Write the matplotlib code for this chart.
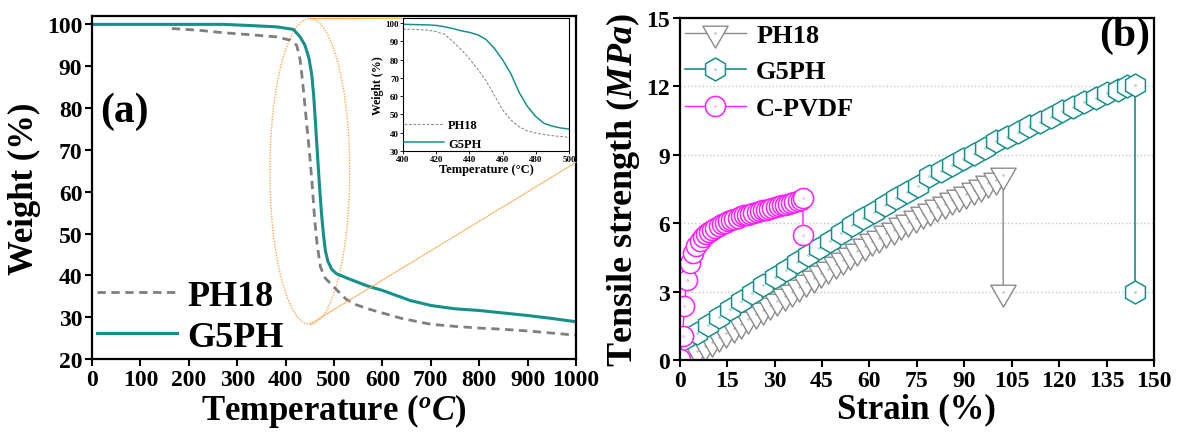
import matplotlib
matplotlib.use('Agg')
import matplotlib.pyplot as plt
from matplotlib.patches import Ellipse, ConnectionPatch
from matplotlib.path import Path

plt.rcParams['font.family'] = ['Liberation Serif', 'DejaVu Serif']
plt.rcParams['font.weight'] = 'bold'
plt.rcParams['axes.labelweight'] = 'bold'
plt.rcParams['mathtext.fontset'] = 'custom'
plt.rcParams['mathtext.rm'] = 'Liberation Serif:bold'
plt.rcParams['mathtext.it'] = 'Liberation Serif:italic:bold'
plt.rcParams['mathtext.bf'] = 'Liberation Serif:bold'

# ---------------- data: panel (a) TGA ----------------
T_PH18 = [165, 220, 271, 330, 382, 410, 423, 430, 435, 440, 445, 450, 455, 460, 465,
          472, 482, 495, 510, 525, 545, 570, 600, 640, 700, 750, 800, 850, 900, 950, 1000]
W_PH18 = [99.0, 98.6, 98.0, 97.5, 97.0, 96.2, 95.0, 91.5, 86.5, 80.5, 74.5, 68.5, 61.5, 53.5, 47.5,
          42.0, 39.3, 37.8, 36.0, 34.3, 33.0, 32.0, 31.0, 29.7, 28.3, 27.8, 27.4, 27.1, 26.7, 26.2, 25.7]

T_G5PH = [0, 100, 200, 271, 330, 382, 416, 430, 440, 448, 454, 458, 462, 466, 470, 474, 478,
          482, 487, 495, 505, 530, 568, 600, 657, 700, 750, 800, 850, 900, 950, 1000]
W_G5PH = [100.0, 100.0, 100.0, 100.0, 99.7, 99.4, 98.8, 97.0, 95.0, 92.0, 88.0, 83.0, 76.0, 68.5,
          61.5, 55.0, 50.0, 46.0, 43.5, 41.5, 40.4, 39.2, 37.5, 36.4, 34.0, 32.8, 32.0, 31.6, 31.0,
          30.4, 29.7, 28.9]

# inset (400-500 C)
T_inset = [400, 405, 410, 415, 420, 425, 430, 435, 440, 445, 450, 455, 460, 465, 470, 475, 480,
           485, 490, 495, 500]
W_PH18_inset = [96.7, 96.6, 96.4, 96.1, 95.3, 93.8, 90.0, 85.5, 80.5, 74.8, 68.5, 60.5, 52.5,
                47.0, 43.2, 41.0, 39.8, 39.0, 38.4, 37.9, 37.5]
W_G5PH_inset = [99.3, 99.2, 99.1, 99.0, 98.7, 98.0, 97.0, 95.8, 94.9, 93.6, 91.0, 86.2, 79.9,
                72.2, 62.0, 54.3, 48.8, 45.1, 43.6, 42.6, 42.0]

# ---------------- data: panel (b) tensile ----------------
strain_PH18 = [3.3, 5.6, 7.9, 10.2, 12.5, 14.8, 17.1, 19.4, 21.7, 24.0, 26.3, 28.6, 30.9, 33.2,
               35.5, 37.8, 40.1, 42.4, 44.7, 47.0, 49.3, 51.6, 53.9, 56.2, 58.5, 60.8, 63.1, 65.4,
               67.7, 70.0, 72.3, 74.6, 76.9, 79.2, 81.5, 83.8, 86.1, 88.4, 90.7, 93.0, 95.3, 97.6,
               99.9, 102.3, 102.3]
stress_PH18 = [0.2, 0.4, 0.6, 0.8, 1.0, 1.2, 1.4, 1.6, 1.8, 2.0, 2.2, 2.4, 2.6, 2.8,
               3.0, 3.2, 3.4, 3.6, 3.8, 4.0, 4.2, 4.4, 4.6, 4.8, 5.0, 5.2, 5.35, 5.55,
               5.7, 5.9, 6.05, 6.25, 6.4, 6.55, 6.7, 6.85, 7.0, 7.15, 7.3, 7.45, 7.6, 7.75,
               7.9, 8.1, 3.0]

strain_G5PH = [1.5, 5.6, 9.0, 12.5, 16.0, 19.5, 23.0, 26.5, 30.0, 33.5, 37.0, 40.5, 44.0, 47.5,
               51.0, 54.5, 58.0, 61.5, 65.0, 68.5, 72.0, 75.5, 79.0, 82.5, 86.0, 89.5, 93.0,
               96.5, 100.0, 103.5, 107.0, 110.5, 114.0, 117.5, 121.0, 124.5, 128.0, 131.5,
               135.0, 138.5, 141.5, 144.0, 144.0]
stress_G5PH = [0.9, 1.2, 1.55, 1.9, 2.25, 2.6, 2.95, 3.3, 3.65, 3.95, 4.3, 4.6, 4.9, 5.2,
               5.55, 5.9, 6.25, 6.5, 6.8, 7.1, 7.35, 7.65, 8.05, 8.3, 8.55, 8.8, 9.05,
               9.3, 9.6, 9.8, 10.0, 10.25, 10.45, 10.65, 10.9, 11.1, 11.3, 11.5,
               11.7, 11.85, 12.0, 12.05, 3.0]

strain_CPVDF = [0.0, 0.9, 1.5, 2.2, 3.2, 4.3, 5.3, 6.3, 7.3, 8.3, 9.3, 10.3, 11.3, 12.3, 13.3,
                14.3, 15.3, 16.3, 17.3, 18.3, 19.3, 20.3, 21.3, 22.3, 23.3, 24.3, 25.3, 26.3,
                27.3, 28.3, 29.3, 30.3, 31.3, 32.3, 33.3, 34.3, 35.3, 36.3, 37.3, 38.3, 39.0, 39.0]
stress_CPVDF = [0.05, 1.05, 2.37, 3.52, 4.25, 4.7, 5.0, 5.2, 5.38, 5.52, 5.63, 5.72, 5.8, 5.88,
                5.95, 6.02, 6.08, 6.14, 6.2, 6.25, 6.3, 6.34, 6.38, 6.42, 6.46, 6.5, 6.54, 6.57,
                6.6, 6.63, 6.67, 6.7, 6.74, 6.78, 6.82, 6.86, 6.9, 6.94, 6.98, 7.02, 7.1, 5.5]

TEAL = '#16908b'
GRAY = '#8a8a8a'
MAG = '#ff1eff'
ORANGE = '#ffa64d'

W, H = 1178, 439


def rect(l, t, r, b):
    return [l / W, 1 - b / H, (r - l) / W, (b - t) / H]


def dot_marker(base):
    return Path.make_compound_path(base, Path.circle((0, 0), 0.02))


tri = Path.unit_regular_polygon(3)
tri_down = Path(-tri.vertices, tri.codes)
m_tri = dot_marker(tri_down)
m_hex = dot_marker(Path.unit_regular_polygon(6))
m_circ = dot_marker(Path.unit_circle())

fig = plt.figure(figsize=(11.78, 4.39), dpi=100)

# ---------------- panel (a) ----------------
ax1 = fig.add_axes(rect(92, 17, 576, 360))
ax1.plot(T_PH18, W_PH18, color='#7f7f7f', lw=2.0, ls=(0, (3, 2)), label='PH18')
ax1.plot(T_G5PH, W_G5PH, color=TEAL, lw=2.2, label='G5PH')
ax1.set_xlim(0, 1000)
ax1.set_ylim(20, 102)
ax1.set_xticks(range(0, 1001, 100))
ax1.set_yticks(range(20, 101, 10))
ax1.tick_params(labelsize=17, direction='out', length=5, width=1.5, pad=2)
for s in ax1.spines.values():
    s.set_linewidth(1.6)
ax1.set_xlabel(r'Temperature ($^{o}C$)', fontsize=25, labelpad=1)
ax1.set_ylabel('Weight (%)', fontsize=25, labelpad=4)
ax1.legend(loc='lower left', bbox_to_anchor=(0.0, 0.0), frameon=False, fontsize=26,
           handlelength=2.2, handletextpad=0.3, borderaxespad=0.0, borderpad=0.15,
           labelspacing=0.2)

ell = Ellipse((450, 64.85), 165, 73.1, fill=False, ls=(0, (1, 1)), lw=1.0, color=ORANGE,
              clip_on=False)
ax1.add_patch(ell)

fig.text(100 / W, 1 - 112 / H, '(a)', fontsize=30, ha='left', va='center')

# inset
axin = fig.add_axes(rect(403, 19.3, 569, 152))
axin.plot(T_inset, W_PH18_inset, color='#8f8f8f', lw=0.8, ls=(0, (2.5, 1.5)), label='PH18')
axin.plot(T_inset, W_G5PH_inset, color=TEAL, lw=1.1, label='G5PH')
axin.set_xlim(400, 500)
axin.set_ylim(30, 102.6)
axin.set_xticks(range(400, 501, 20))
axin.set_yticks(range(30, 101, 10))
axin.tick_params(labelsize=6.5, direction='out', length=2, width=0.6, pad=0.8)
for s in axin.spines.values():
    s.set_linewidth(0.8)
axin.set_xlabel('Temperature (°C)', fontsize=9, labelpad=0)
axin.set_ylabel('Weight (%)', fontsize=8.5, labelpad=1)
axin.legend(loc='lower left', frameon=False, fontsize=9, handlelength=3.2,
            handletextpad=0.3, borderaxespad=0.0, borderpad=0.1, labelspacing=0.55)

con1 = ConnectionPatch(xyA=(450, 64.85 + 73.1 / 2), coordsA=ax1.transData,
                       xyB=(0, 1), coordsB=axin.transAxes, color=ORANGE, lw=0.8,
                       ls=(0, (1, 1)))
con2 = ConnectionPatch(xyA=(450, 64.85 - 73.1 / 2), coordsA=ax1.transData,
                       xyB=(1000, 67), coordsB=ax1.transData, color=ORANGE, lw=0.8,
                       ls=(0, (1, 1)))
fig.add_artist(con1)
fig.add_artist(con2)

# ---------------- panel (b) ----------------
ax2 = fig.add_axes(rect(679.7, 19, 1154, 361))
ax2.plot(strain_PH18, stress_PH18, color=GRAY, lw=1.0, marker=m_tri, ms=21,
         mfc='white', mec=GRAY, mew=1.0, label='PH18')
ax2.plot(strain_G5PH, stress_G5PH, color=TEAL, lw=1.2, marker=m_hex, ms=16.5,
         mfc='white', mec=TEAL, mew=1.1, label='G5PH')
ax2.plot(strain_CPVDF, stress_CPVDF, color=MAG, lw=1.0, marker=m_circ, ms=14.5,
         mfc='white', mec=MAG, mew=1.1, label='C-PVDF')
ax2.set_xlim(0, 150)
ax2.set_ylim(0, 15)
ax2.set_xticks(range(0, 151, 15))
ax2.set_yticks(range(0, 16, 3))
ax2.yaxis.grid(True, ls=':', color='#c8c8c8', lw=1.0)
ax2.set_axisbelow(True)
ax2.tick_params(labelsize=17, direction='out', length=5, width=1.5, pad=2)
for s in ax2.spines.values():
    s.set_linewidth(1.6)
ax2.set_xlabel('Strain (%)', fontsize=25, labelpad=1)
ax2.set_ylabel(r'Tensile strength ($MPa$)', fontsize=26, labelpad=3)
ax2.legend(loc='upper left', bbox_to_anchor=(0.0, 1.0), frameon=False, fontsize=19,
           handlelength=2.3, handletextpad=0.4, borderaxespad=0.0, borderpad=0.2,
           labelspacing=0.5)

fig.text(1150 / W, 1 - 36 / H, '(b)', fontsize=30, ha='right', va='center')

fig.savefig('out.png', dpi=100)
